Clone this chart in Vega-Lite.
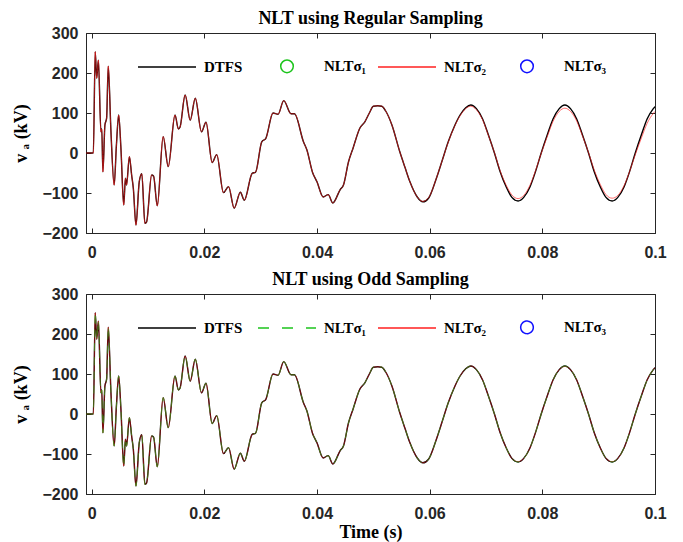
{
"$schema": "https://vega.github.io/schema/vega-lite/v6.json",
"background": "white",
"padding": {"left": 12, "top": 9, "right": 10, "bottom": 0},
"spacing": 9,
"data": {"values": [
{"t":-0.001,"dtfs":0,"rs2":0,"os1":0,"os2":0},
{"t":0.0003,"dtfs":0,"rs2":0,"os1":0,"os2":0},
{"t":0.00064,"dtfs":253,"rs2":253,"os1":253,"os2":253},
{"t":0.0009,"dtfs":187,"rs2":187,"os1":187,"os2":187},
{"t":0.0012,"dtfs":232,"rs2":232,"os1":232,"os2":232},
{"t":0.00165,"dtfs":53,"rs2":53,"os1":53,"os2":53},
{"t":0.0018,"dtfs":60,"rs2":60,"os1":60,"os2":60},
{"t":0.002,"dtfs":-47,"rs2":-47,"os1":-47,"os2":-47},
{"t":0.00236,"dtfs":70,"rs2":70,"os1":70,"os2":70},
{"t":0.00266,"dtfs":87,"rs2":87,"os1":87,"os2":87},
{"t":0.00295,"dtfs":217,"rs2":217,"os1":217,"os2":217},
{"t":0.00343,"dtfs":53,"rs2":53,"os1":53,"os2":53},
{"t":0.004,"dtfs":-80,"rs2":-80,"os1":-80,"os2":-80},
{"t":0.0044,"dtfs":20,"rs2":20,"os1":20,"os2":20},
{"t":0.0048,"dtfs":95,"rs2":95,"os1":95,"os2":95},
{"t":0.0052,"dtfs":12,"rs2":12,"os1":12,"os2":12},
{"t":0.0057,"dtfs":-130,"rs2":-130,"os1":-130,"os2":-130},
{"t":0.006,"dtfs":-63,"rs2":-63,"os1":-63,"os2":-63},
{"t":0.0062,"dtfs":-80,"rs2":-80,"os1":-80,"os2":-80},
{"t":0.0067,"dtfs":-9,"rs2":-9,"os1":-9,"os2":-9},
{"t":0.0071,"dtfs":-55,"rs2":-55,"os1":-55,"os2":-55},
{"t":0.0074,"dtfs":-88,"rs2":-88,"os1":-88,"os2":-88},
{"t":0.00787,"dtfs":-180,"rs2":-180,"os1":-180,"os2":-180},
{"t":0.00845,"dtfs":-72,"rs2":-72,"os1":-72,"os2":-72},
{"t":0.0089,"dtfs":-52,"rs2":-52,"os1":-52,"os2":-52},
{"t":0.00946,"dtfs":-176,"rs2":-176,"os1":-176,"os2":-176},
{"t":0.00976,"dtfs":-172,"rs2":-172,"os1":-172,"os2":-172},
{"t":0.01065,"dtfs":-55,"rs2":-55,"os1":-55,"os2":-55},
{"t":0.011,"dtfs":-58,"rs2":-58,"os1":-58,"os2":-58},
{"t":0.01165,"dtfs":-132,"rs2":-132,"os1":-132,"os2":-132},
{"t":0.0127,"dtfs":41,"rs2":41,"os1":41,"os2":41},
{"t":0.0136,"dtfs":-34,"rs2":-34,"os1":-34,"os2":-34},
{"t":0.0148,"dtfs":95,"rs2":95,"os1":95,"os2":95},
{"t":0.0154,"dtfs":60,"rs2":60,"os1":60,"os2":60},
{"t":0.0157,"dtfs":65,"rs2":65,"os1":65,"os2":65},
{"t":0.0166,"dtfs":145,"rs2":145,"os1":145,"os2":145},
{"t":0.0175,"dtfs":82,"rs2":82,"os1":82,"os2":82},
{"t":0.0184,"dtfs":137,"rs2":137,"os1":137,"os2":137},
{"t":0.0195,"dtfs":53,"rs2":53,"os1":53,"os2":53},
{"t":0.0203,"dtfs":77,"rs2":77,"os1":77,"os2":77},
{"t":0.0214,"dtfs":-24,"rs2":-24,"os1":-24,"os2":-24},
{"t":0.0222,"dtfs":-4,"rs2":-4,"os1":-4,"os2":-4},
{"t":0.0234,"dtfs":-99,"rs2":-99,"os1":-99,"os2":-99},
{"t":0.0243,"dtfs":-84,"rs2":-84,"os1":-84,"os2":-84},
{"t":0.0253,"dtfs":-138,"rs2":-138,"os1":-138,"os2":-138},
{"t":0.0264,"dtfs":-98,"rs2":-98,"os1":-98,"os2":-98},
{"t":0.0271,"dtfs":-118,"rs2":-118,"os1":-118,"os2":-118},
{"t":0.0285,"dtfs":-51,"rs2":-51,"os1":-51,"os2":-51},
{"t":0.0291,"dtfs":-48,"rs2":-48,"os1":-48,"os2":-48},
{"t":0.0302,"dtfs":28,"rs2":28,"os1":28,"os2":28},
{"t":0.0309,"dtfs":36,"rs2":36,"os1":36,"os2":36},
{"t":0.0322,"dtfs":100,"rs2":100,"os1":100,"os2":100},
{"t":0.0331,"dtfs":97,"rs2":97,"os1":97,"os2":97},
{"t":0.0341,"dtfs":131,"rs2":131,"os1":131,"os2":131},
{"t":0.0354,"dtfs":98,"rs2":98,"os1":98,"os2":98},
{"t":0.036,"dtfs":98,"rs2":98,"os1":98,"os2":98},
{"t":0.0376,"dtfs":28,"rs2":28,"os1":28,"os2":28},
{"t":0.0382,"dtfs":8,"rs2":8,"os1":8,"os2":8},
{"t":0.0392,"dtfs":-48,"rs2":-48,"os1":-48,"os2":-48},
{"t":0.04,"dtfs":-72,"rs2":-72,"os1":-72,"os2":-72},
{"t":0.0411,"dtfs":-110,"rs2":-110,"os1":-110,"os2":-110},
{"t":0.042,"dtfs":-104,"rs2":-104,"os1":-104,"os2":-104},
{"t":0.0428,"dtfs":-125,"rs2":-125,"os1":-125,"os2":-125},
{"t":0.0441,"dtfs":-92,"rs2":-92,"os1":-92,"os2":-92},
{"t":0.0447,"dtfs":-80,"rs2":-80,"os1":-80,"os2":-80},
{"t":0.0456,"dtfs":-22,"rs2":-22,"os1":-22,"os2":-22},
{"t":0.0464,"dtfs":12,"rs2":12,"os1":12,"os2":12},
{"t":0.0476,"dtfs":62,"rs2":62,"os1":62,"os2":62},
{"t":0.0485,"dtfs":78,"rs2":78,"os1":78,"os2":78},
{"t":0.0493,"dtfs":100,"rs2":100,"os1":100,"os2":100},
{"t":0.05,"dtfs":117,"rs2":117,"os1":117,"os2":117},
{"t":0.0508,"dtfs":118,"rs2":118,"os1":118,"os2":118},
{"t":0.0515,"dtfs":117,"rs2":117,"os1":117,"os2":117},
{"t":0.0522,"dtfs":105,"rs2":105,"os1":105,"os2":105},
{"t":0.0533,"dtfs":70,"rs2":70,"os1":70,"os2":70},
{"t":0.0547,"dtfs":3,"rs2":3,"os1":3,"os2":3},
{"t":0.0556,"dtfs":-35,"rs2":-35,"os1":-35,"os2":-35},
{"t":0.0565,"dtfs":-72,"rs2":-72,"os1":-72,"os2":-72},
{"t":0.0578,"dtfs":-110,"rs2":-110,"os1":-110,"os2":-110},
{"t":0.0588,"dtfs":-122,"rs2":-121,"os1":-122,"os2":-122},
{"t":0.0598,"dtfs":-113,"rs2":-112,"os1":-113,"os2":-113},
{"t":0.0612,"dtfs":-63,"rs2":-63,"os1":-63,"os2":-63},
{"t":0.0622,"dtfs":-20,"rs2":-20,"os1":-20,"os2":-20},
{"t":0.0633,"dtfs":28,"rs2":27,"os1":28,"os2":28},
{"t":0.0644,"dtfs":67,"rs2":66,"os1":67,"os2":67},
{"t":0.0654,"dtfs":95,"rs2":93,"os1":95,"os2":95},
{"t":0.0664,"dtfs":113,"rs2":111,"os1":113,"os2":113},
{"t":0.0673,"dtfs":120,"rs2":117,"os1":120,"os2":120},
{"t":0.0683,"dtfs":111,"rs2":108,"os1":111,"os2":111},
{"t":0.0694,"dtfs":85,"rs2":83,"os1":85,"os2":85},
{"t":0.0704,"dtfs":46,"rs2":45,"os1":46,"os2":46},
{"t":0.0715,"dtfs":0,"rs2":1,"os1":0,"os2":0},
{"t":0.0725,"dtfs":-46,"rs2":-44,"os1":-46,"os2":-46},
{"t":0.0736,"dtfs":-85,"rs2":-81,"os1":-85,"os2":-85},
{"t":0.0746,"dtfs":-111,"rs2":-105,"os1":-111,"os2":-111},
{"t":0.0757,"dtfs":-120,"rs2":-114,"os1":-120,"os2":-119},
{"t":0.0767,"dtfs":-111,"rs2":-106,"os1":-111,"os2":-111},
{"t":0.0778,"dtfs":-85,"rs2":-81,"os1":-85,"os2":-85},
{"t":0.0788,"dtfs":-46,"rs2":-44,"os1":-46,"os2":-46},
{"t":0.0798,"dtfs":0,"rs2":-1,"os1":0,"os2":0},
{"t":0.0809,"dtfs":46,"rs2":42,"os1":46,"os2":46},
{"t":0.0819,"dtfs":85,"rs2":79,"os1":85,"os2":85},
{"t":0.083,"dtfs":111,"rs2":104,"os1":111,"os2":111},
{"t":0.084,"dtfs":120,"rs2":112,"os1":120,"os2":119},
{"t":0.085,"dtfs":111,"rs2":104,"os1":111,"os2":111},
{"t":0.0861,"dtfs":85,"rs2":80,"os1":85,"os2":85},
{"t":0.0871,"dtfs":46,"rs2":44,"os1":46,"os2":46},
{"t":0.0882,"dtfs":0,"rs2":1,"os1":0,"os2":0},
{"t":0.0892,"dtfs":-46,"rs2":-42,"os1":-46,"os2":-46},
{"t":0.0903,"dtfs":-85,"rs2":-79,"os1":-85,"os2":-85},
{"t":0.0913,"dtfs":-111,"rs2":-104,"os1":-111,"os2":-111},
{"t":0.0924,"dtfs":-120,"rs2":-113,"os1":-120,"os2":-119},
{"t":0.0934,"dtfs":-111,"rs2":-106,"os1":-111,"os2":-111},
{"t":0.0945,"dtfs":-85,"rs2":-82,"os1":-85,"os2":-85},
{"t":0.0955,"dtfs":-46,"rs2":-46,"os1":-46,"os2":-46},
{"t":0.0965,"dtfs":0,"rs2":-4,"os1":0,"os2":0},
{"t":0.0976,"dtfs":46,"rs2":38,"os1":46,"os2":46},
{"t":0.0986,"dtfs":85,"rs2":74,"os1":85,"os2":85},
{"t":0.0997,"dtfs":111,"rs2":99,"os1":111,"os2":111},
{"t":0.1,"dtfs":116,"rs2":104,"os1":116,"os2":116}
]},
"config": {
  "view": {"stroke": "#262626", "strokeWidth": 1},
  "axis": {"grid": false, "labelFont": "Liberation Sans", "labelFontWeight": "bold", "labelFontSize": 16, "labelColor": "#262626", "domainColor": "#262626", "tickColor": "#262626", "tickSize": -5, "labelFlush": false, "titleFont": "Liberation Serif", "titleFontWeight": "bold", "titleFontSize": 18, "titleColor": "black"},
  "title": {"font": "Liberation Serif", "fontWeight": "bold", "fontSize": 18, "color": "black", "offset": -3, "anchor": "middle"},
  "legend": {"orient": "none", "legendX": 51, "legendY": 3, "direction": "horizontal", "columns": 4, "gridAlign": "all", "columnPadding": 8, "title": null, "symbolType": "stroke", "symbolSize": 3364, "symbolStrokeWidth": 1.5, "labelFont": "Liberation Serif", "labelFontWeight": "bold", "labelFontSize": 15, "labelColor": "black", "labelOffset": 7}
},
"resolve": {"scale": {"color": "independent"}, "legend": {"color": "independent"}},
"vconcat": [
{
  "title": "NLT using Regular Sampling",
  "width": 569, "height": 200,
  "layer": [
    {"mark": {"type": "line", "strokeWidth": 1.4, "interpolate": "monotone", "clip": true},
     "encoding": {
       "x": {"field": "t", "type": "quantitative", "scale": {"domain": [-0.001, 0.1], "nice": false, "zero": false}, "axis": {"values": [0, 0.02, 0.04, 0.06, 0.08, 0.1], "format": "~g", "title": null, "labelPadding": 16}},
       "y": {"field": "dtfs", "type": "quantitative", "scale": {"domain": [-200, 300], "nice": false}, "axis": {"values": [-200, -100, 0, 100, 200, 300], "title": "v ₐ (kV)", "labelPadding": 13, "titlePadding": 11}},
       "color": {"datum": "DTFS", "type": "nominal", "scale": {"domain": ["DTFS", "NLTσ₁", "NLTσ₂", "NLTσ₃"], "range": ["#000000", "#1cc41c", "#ff2020", "#1010ff"]},
         "legend": {"encode": {"symbols": {"update": {
           "shape": {"signal": "datum.value === 'NLTσ₁' || datum.value === 'NLTσ₃' ? 'M-0.217,0A0.217,0.217,0,1,1,0.217,0A0.217,0.217,0,1,1,-0.217,0Z' : 'stroke'"},
           "fill": {"value": "transparent"}}}}}}
     }},
    {"mark": {"type": "line", "strokeWidth": 1, "opacity": 0.65, "interpolate": "monotone", "clip": true},
     "encoding": {
       "x": {"field": "t", "type": "quantitative", "axis": {"orient": "top", "values": [0, 0.02, 0.04, 0.06, 0.08, 0.1], "labels": false, "domain": false, "title": null}},
       "y": {"field": "rs2", "type": "quantitative", "axis": {"orient": "right", "values": [-200, -100, 0, 100, 200, 300], "labels": false, "domain": false, "title": null}},
       "color": {"datum": "NLTσ₂", "type": "nominal"}
     }}
  ],
  "resolve": {"axis": {"x": "independent", "y": "independent"}}
},
{
  "title": "NLT using Odd Sampling",
  "width": 569, "height": 200,
  "layer": [
    {"mark": {"type": "line", "strokeWidth": 1.4, "interpolate": "monotone", "clip": true},
     "encoding": {
       "x": {"field": "t", "type": "quantitative", "scale": {"domain": [-0.001, 0.1], "nice": false, "zero": false}, "axis": {"values": [0, 0.02, 0.04, 0.06, 0.08, 0.1], "format": "~g", "title": "Time (s)", "labelPadding": 16, "titlePadding": 2}},
       "y": {"field": "dtfs", "type": "quantitative", "scale": {"domain": [-200, 300], "nice": false}, "axis": {"values": [-200, -100, 0, 100, 200, 300], "title": "v ₐ (kV)", "labelPadding": 13, "titlePadding": 11}},
       "color": {"datum": "DTFS", "type": "nominal", "scale": {"domain": ["DTFS", "NLTσ₁", "NLTσ₂", "NLTσ₃"], "range": ["#000000", "#1cc41c", "#ff2020", "#1010ff"]},
         "legend": {"encode": {"symbols": {"update": {
           "shape": {"signal": "datum.value === 'NLTσ₃' ? 'M-0.217,0A0.217,0.217,0,1,1,0.217,0A0.217,0.217,0,1,1,-0.217,0Z' : 'stroke'"},
           "strokeDash": {"signal": "datum.value === 'NLTσ₁' ? [11, 13] : [1, 0]"},
           "fill": {"value": "transparent"}}}}}}
     }},
    {"mark": {"type": "line", "strokeWidth": 1, "opacity": 0.5, "interpolate": "monotone", "clip": true},
     "encoding": {
       "x": {"field": "t", "type": "quantitative", "axis": null},
       "y": {"field": "os2", "type": "quantitative", "axis": null},
       "color": {"datum": "NLTσ₂", "type": "nominal"}
     }},
    {"mark": {"type": "line", "strokeWidth": 0.9, "opacity": 0.6, "strokeDash": [8, 6], "interpolate": "monotone", "clip": true},
     "encoding": {
       "x": {"field": "t", "type": "quantitative", "axis": {"orient": "top", "values": [0, 0.02, 0.04, 0.06, 0.08, 0.1], "labels": false, "domain": false, "title": null}},
       "y": {"field": "os1", "type": "quantitative", "axis": {"orient": "right", "values": [-200, -100, 0, 100, 200, 300], "labels": false, "domain": false, "title": null}},
       "color": {"datum": "NLTσ₁", "type": "nominal"}
     }}
  ],
  "resolve": {"axis": {"x": "independent", "y": "independent"}}
}
]
}
